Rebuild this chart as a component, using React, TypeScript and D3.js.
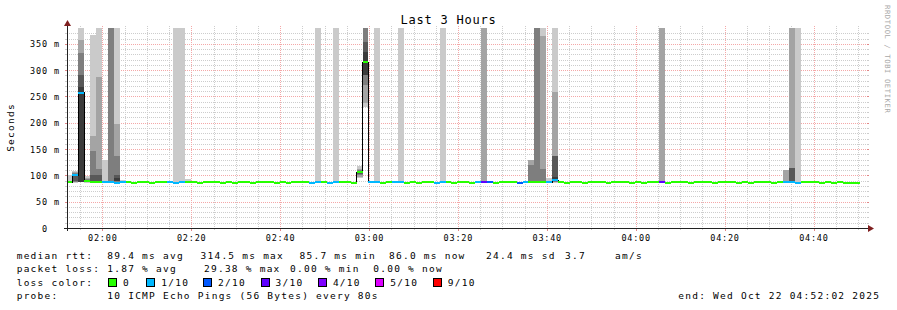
import React from 'react';
import * as d3 from 'd3';

// ---------- data ----------
const chartTitle = 'Last 3 Hours';
const yAxisTitle = 'Seconds';
const watermark = 'RRDTOOL / TOBI OETIKER';
const graphStart = new Date(2025, 9, 22, 1, 52, 2);
const graphEnd = new Date(2025, 9, 22, 4, 52, 2);
const firstStepStart = new Date(2025, 9, 22, 1, 51, 52);
const stepSeconds = 80;

// median rtt per 80 s step (ms)
const medianRtt = [
  86.8, 100, 257, 90, 87.5, 87, 86.5, 86.5, 86.4, 86.6,
  86.5, 86.4, 86.6, 86.5, 86.3, 86.5, 86.6, 86.5, 86.4, 86.5,
  86.7, 86.5, 86.4, 86.5, 86.6, 86.5, 86.3, 86.5, 86.4, 86.6,
  86.5, 86.4, 86.5, 86.6, 86.5, 86.4, 86.5, 86.3, 86.5, 86.6,
  86.5, 86.4, 86.6, 86.5, 86.4, 86.5, 86.6, 86.5, 86.4, 106,
  314.5, 86.5, 86.6, 86.4, 86.5, 86.5, 86.6, 86.4, 86.5, 86.3,
  86.5, 86.6, 86.4, 86.5, 86.5, 86.4, 86.6, 86.5, 86.4, 86.5,
  86.6, 86.5, 86.4, 86.5, 86.6, 86.5, 86.4, 86.5, 86.7, 86.6,
  86.8, 86.5, 91, 86.5, 86.4, 86.6, 86.5, 86.4, 86.5, 86.6,
  86.5, 86.4, 86.5, 86.6, 86.5, 86.4, 86.5, 86.3, 86.5, 86.6,
  86.5, 86.4, 86.5, 86.6, 86.5, 86.4, 86.5, 86.6, 86.5, 86.4,
  86.5, 86.6, 86.5, 86.4, 86.5, 86.3, 86.5, 86.6, 86.5, 86.4,
  86.5, 86.6, 86.5, 86.4, 86.5, 86.6, 86.5, 86.4, 86.5, 86.3,
  86.5, 86.4, 86.2, 86.0,
];

// lost pings out of 10 per step
const lossCount = [
  0, 1, 1, 0, 0, 0, 1, 1, 1, 1,
  0, 0, 0, 0, 0, 0, 0, 1, 1, 1,
  0, 0, 0, 0, 0, 0, 0, 0, 0, 0,
  0, 0, 0, 0, 0, 0, 0, 0, 0, 0,
  0, 1, 1, 0, 1, 1, 0, 0, 0, 0,
  0, 1, 1, 0, 0, 1, 1, 0, 0, 0,
  0, 0, 1, 1, 0, 0, 0, 0, 0, 1,
  3, 2, 0, 0, 0, 0, 2, 1, 0, 0,
  0, 1, 1, 0, 0, 0, 0, 0, 0, 0,
  0, 0, 0, 0, 0, 0, 0, 0, 0, 0,
  3, 0, 0, 0, 0, 0, 0, 0, 0, 0,
  0, 0, 0, 0, 0, 0, 0, 0, 0, 0,
  0, 1, 1, 1, 0, 0, 0, 0, 0, 0,
  0, 0, 0, 0,
];

// smoke: sorted individual ping times (ms) for steps with visible spread
const smokeSteps = [0, 1, 2, 3, 4, 5, 6, 7, 8, 9, 18, 19, 20, 42, 45, 49, 50, 52, 56, 63, 70, 78, 79, 80, 81, 82, 100, 121, 122, 123];
const smokePings = [
  [85, 86, 86, 86, 86, 87, 87, 87, 88, 100],
  [86, 87, 88, 90, 98, 100, 102, 104, 106, 108],
  [88, 88, 88, 88, 88, 267, 290, 333, 358, 400],
  [86, 87, 88, 89, 90, 91, 92, 93, 95, 98],
  [86, 87, 88, 88, 88, 88, 100, 146, 174, 366],
  [86, 87, 88, 88, 88, 88, 100, 113, 287, 400],
  [86, 86, 86, 86, 87, 87, 87, 87, 87, 129],
  [86, 87, 88, 88, 88, 88, 88, 400, 400, 400],
  [86, 87, 88, 89, 90, 95, 100, 136, 197, 400],
  [86, 86, 87, 87, 87, 87, 88, 88, 90, 92],
  [86, 86, 86, 86, 87, 87, 87, 87, 87, 400],
  [86, 86, 86, 86, 87, 87, 87, 87, 87, 400],
  [86, 86, 86, 86, 87, 87, 87, 87, 87, 93],
  [86, 86, 86, 86, 87, 87, 87, 87, 87, 400],
  [86, 86, 86, 86, 87, 87, 87, 87, 87, 400],
  [95, 97, 100, 103, 105, 107, 109, 111, 113, 118],
  [230, 237, 271, 290, 290, 334, 354, 400, 400, 400],
  [86, 86, 86, 86, 87, 87, 87, 87, 87, 400],
  [86, 86, 86, 86, 87, 87, 87, 87, 87, 400],
  [86, 86, 86, 86, 87, 87, 87, 87, 87, 400],
  [86, 87, 88, 88, 88, 88, 88, 88, 400, 400],
  [86, 87, 88, 88, 88, 88, 88, 120, 129, 129],
  [86, 87, 88, 88, 88, 88, 88, 400, 400, 400],
  [86, 87, 88, 88, 88, 88, 88, 112, 364, 400],
  [86, 86, 86, 87, 87, 87, 88, 88, 90, 95],
  [86, 87, 88, 90, 91, 97, 137, 137, 259, 400],
  [86, 87, 88, 88, 88, 88, 88, 88, 400, 400],
  [86, 87, 88, 88, 88, 88, 88, 88, 110, 110],
  [86, 87, 88, 88, 88, 88, 114, 114, 400, 400],
  [86, 86, 86, 86, 87, 87, 87, 87, 87, 400],
];

const yMax = 380;
const yTickValues = [0, 50, 100, 150, 200, 250, 300, 350];

const lossLevels = [0, 1, 2, 3, 4, 5, 9];
const lossLabels = ['0', '1/10', '2/10', '3/10', '4/10', '5/10', '9/10'];
const lossColors = ['#26ff00', '#00b8ff', '#0059ff', '#5e00ff', '#7e00ff', '#dd00ff', '#ff0000'];
const smokeShades = ['#cacaca', '#a4a4a4', '#7e7e7e', '#585858', '#3c3c3c'];

const legendRtt = [
  { x: 16.7, t: 'median rtt:' },
  { x: 107.3, t: '89.4 ms avg' },
  { x: 200.5, t: '314.5 ms max' },
  { x: 299.5, t: '85.7 ms min' },
  { x: 389, t: '86.0 ms now' },
  { x: 486, t: '24.4 ms sd' },
  { x: 565, t: '3.7' },
  { x: 615, t: 'am/s' },
];
const legendLoss = [
  { x: 16.7, t: 'packet loss:' },
  { x: 107.3, t: '1.87 % avg' },
  { x: 204, t: '29.38 % max' },
  { x: 290, t: '0.00 % min' },
  { x: 373.3, t: '0.00 % now' },
];
const legendSwatchX = [108.5, 146.8, 203.5, 261, 318.4, 375.8, 433.3];
const probeLabel = 'probe:';
const probeText = '10 ICMP Echo Pings (56 Bytes) every 80s';
const endText = 'end: Wed Oct 22 04:52:02 2025';

// ---------- layout ----------
const W = 897;
const H = 310;
const X0 = 67;
const X1 = 867;
const Y0 = 228;
const Y1 = 28;
const MONO = '"DejaVu Sans Mono", monospace';

function lossColor(l: number) {
  let idx = 0;
  for (let i = 0; i < lossLevels.length; i++) if (l >= lossLevels[i]) idx = i;
  return lossColors[idx];
}

export default function App() {
  const x = d3.scaleTime().domain([graphStart, graphEnd]).range([X0, X1]);
  const y = d3.scaleLinear().domain([0, yMax]).range([Y0, Y1]);
  const stepX = (k: number) => x(new Date(firstStepStart.getTime() + k * stepSeconds * 1000));

  const minorTimes = d3.timeMinute.every(5)!.range(graphStart, graphEnd).filter((d) => d.getMinutes() % 20 !== 0);
  const majorTimes = d3.timeMinute.every(20)!.range(graphStart, graphEnd);
  const fmt = d3.timeFormat('%H:%M');
  const minorVals = d3.range(10, yMax, 10).filter((v) => v % 50 !== 0);

  const linePts: [number, number][] = [];
  medianRtt.forEach((m, k) => {
    linePts.push([stepX(k), y(m)]);
    linePts.push([stepX(k + 1), y(m)]);
  });
  const medianPath = d3.line()(linePts) || '';

  const baseText = { fontFamily: MONO, fill: '#000' } as const;
  const legendStyle = { ...baseText, fontSize: 9.5, letterSpacing: 1.24 } as const;
  const minorC = '#cdcdcd';
  const majorC = '#f4a8a8';
  const py = (v: number) => Math.round(y(v)) + 0.5;
  const px = (d: Date) => Math.round(x(d)) + 0.5;

  return (
    <svg width={W} height={H} style={{ position: 'absolute', left: 0, top: 0, background: '#fff' }}>
      <defs>
        <clipPath id="plot">
          <rect x={X0} y={Y1} width={X1 - X0} height={Y0 - Y1} />
        </clipPath>
      </defs>
      <rect x={0} y={0} width={W} height={H} fill="#fff" />

      {/* grid */}
      <g shapeRendering="crispEdges">
        {minorVals.map((v) => (
          <g key={'hm' + v}>
            <line x1={X0} x2={X1} y1={py(v)} y2={py(v)} stroke={minorC} strokeDasharray="1 1" />
            <line x1={X0 - 2} x2={X0} y1={py(v)} y2={py(v)} stroke={minorC} />
            <line x1={X1} x2={X1 + 2} y1={py(v)} y2={py(v)} stroke={minorC} />
          </g>
        ))}
        {minorTimes.map((d) => (
          <g key={'vm' + d.getTime()}>
            <line x1={px(d)} x2={px(d)} y1={Y1 - 2} y2={Y0} stroke={minorC} strokeDasharray="1 1" />
            <line x1={px(d)} x2={px(d)} y1={Y0} y2={Y0 + 2} stroke={minorC} />
          </g>
        ))}
        {yTickValues.filter((v) => v > 0).map((v) => (
          <g key={'hM' + v}>
            <line x1={X0} x2={X1} y1={py(v)} y2={py(v)} stroke={majorC} strokeDasharray="1 1" />
            <line x1={X0 - 2} x2={X0} y1={py(v)} y2={py(v)} stroke="#e08888" />
            <line x1={X1} x2={X1 + 2} y1={py(v)} y2={py(v)} stroke="#e08888" />
          </g>
        ))}
        {majorTimes.map((d) => (
          <g key={'vM' + d.getTime()}>
            <line x1={px(d)} x2={px(d)} y1={Y1 - 2} y2={Y0} stroke={majorC} strokeDasharray="1 1" />
            <line x1={px(d)} x2={px(d)} y1={Y0} y2={Y0 + 3} stroke="#e08888" />
          </g>
        ))}
      </g>

      {/* smoke */}
      <g clipPath="url(#plot)" shapeRendering="crispEdges">
        {smokeSteps.map((k, si) => {
          const p = smokePings[si];
          const x0 = stepX(k);
          const x1 = stepX(k + 1);
          return smokeShades.map((c, i) => {
            const top = y(p[p.length - 1 - i]);
            const bot = y(p[i]);
            return <rect key={k + '-' + i} x={x0} y={top} width={x1 - x0} height={Math.max(0, bot - top)} fill={c} />;
          });
        })}
      </g>

      {/* median line */}
      <g clipPath="url(#plot)">
        <path d={medianPath} fill="none" stroke="#000" strokeWidth={1} shapeRendering="crispEdges" />
        <g shapeRendering="crispEdges">
          {medianRtt.map((m, k) => (
            <rect key={'m' + k} x={stepX(k)} y={y(m) - 1} width={stepX(k + 1) - stepX(k)} height={2} fill={lossColor(lossCount[k])} />
          ))}
        </g>
      </g>

      {/* axes */}
      <g shapeRendering="crispEdges">
        <line x1={X0 - 3} x2={X1 + 2} y1={Y0 + 0.5} y2={Y0 + 0.5} stroke="#222" />
        <line x1={X0 + 0.5} x2={X0 + 0.5} y1={Y0 + 3} y2={Y1 - 3} stroke="#222" />
      </g>
      <path d={`M${X1 + 1},${Y0 - 3} L${X1 + 7},${Y0 + 0.5} L${X1 + 1},${Y0 + 4} Z`} fill="#7f1f1f" />
      <path d={`M${X0 - 3},${Y1 - 2} L${X0 + 0.5},${Y1 - 8} L${X0 + 4},${Y1 - 2} Z`} fill="#7f1f1f" />

      {/* y labels */}
      {yTickValues.map((v) => (
        <text key={'yl' + v} x={30} y={y(v) + 3.5} xmlSpace="preserve" style={{ ...baseText, fontSize: 8.5, letterSpacing: 0.88, whiteSpace: 'pre' }}>
          {v === 0 ? '  0  ' : (String(v).padStart(3, ' ') + ' m')}
        </text>
      ))}
      {/* x labels */}
      {majorTimes.map((d) => (
        <text key={'xl' + d.getTime()} x={x(d) + 0.4} y={241} textAnchor="middle" style={{ ...baseText, fontSize: 8.5, letterSpacing: 0.78 }}>
          {fmt(d)}
        </text>
      ))}

      {/* titles */}
      <text x={448.5} y={24} textAnchor="middle" style={{ ...baseText, fontSize: 12, letterSpacing: 0.78 }}>{chartTitle}</text>
      <text transform="translate(14,127.5) rotate(-90)" textAnchor="middle" style={legendStyle}>{yAxisTitle}</text>
      <text transform="translate(884.5,5) rotate(90)" textAnchor="start" style={{ fontFamily: MONO, fontSize: 7.2, letterSpacing: 0.6, fill: '#a8a8a8' }}>{watermark}</text>

      {/* legend */}
      {legendRtt.map((s, i) => (
        <text key={'lr' + i} x={s.x} y={258.5} style={legendStyle}>{s.t}</text>
      ))}
      {legendLoss.map((s, i) => (
        <text key={'ll' + i} x={s.x} y={272} style={legendStyle}>{s.t}</text>
      ))}
      <text x={16.7} y={285.5} style={legendStyle}>loss color:</text>
      {lossLabels.map((l, i) => (
        <g key={'sw' + i}>
          <rect x={legendSwatchX[i]} y={278.5} width={8} height={8} fill={lossColors[i]} stroke="#000" strokeWidth={1} shapeRendering="crispEdges" />
          <text x={legendSwatchX[i] + 14.5} y={285.5} style={legendStyle}>{l}</text>
        </g>
      ))}
      <text x={16.7} y={299} style={legendStyle}>{probeLabel}</text>
      <text x={107.3} y={299} style={legendStyle}>{probeText}</text>
      <text x={678.3} y={299} style={legendStyle}>{endText}</text>
    </svg>
  );
}
